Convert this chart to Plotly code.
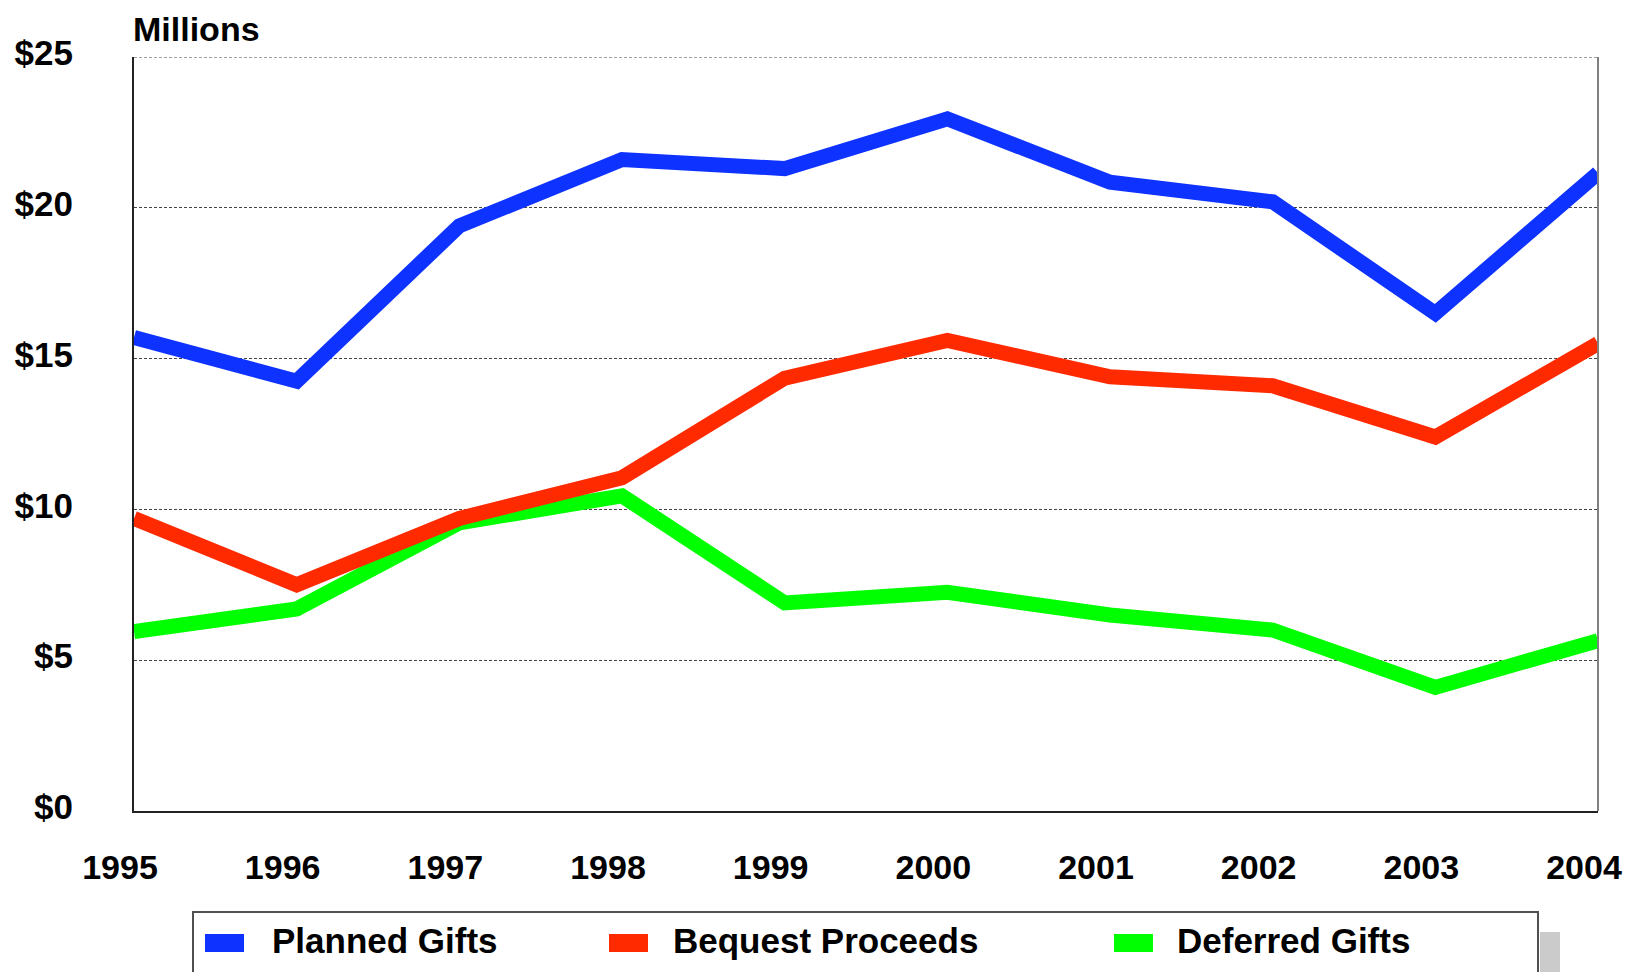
import plotly.graph_objects as go

# ---- data ----
years = [1995, 1996, 1997, 1998, 1999, 2000, 2001, 2002, 2003, 2004]
year_labels = [str(y) for y in years]
planned_gifts = [15.7, 14.25, 19.4, 21.6, 21.3, 22.95, 20.85, 20.2, 16.5, 21.15]
bequest_proceeds = [9.7, 7.5, 9.7, 11.05, 14.35, 15.6, 14.4, 14.1, 12.4, 15.5]
deferred_gifts = [5.95, 6.7, 9.55, 10.45, 6.9, 7.25, 6.5, 6.0, 4.1, 5.65]
y_ticks = [0, 5, 10, 15, 20, 25]
y_tick_labels = ["$0", "$5", "$10", "$15", "$20", "$25"]
series_names = ["Planned Gifts", "Bequest Proceeds", "Deferred Gifts"]
series_colors = ["#0E32FF", "#FF2A00", "#00FF00"]

# ---- layout geometry (pixels, page coords; page body has an 8px offset) ----
OFF = 8
W, H = 1635 - OFF, 972 - OFF
L, R, T, B = 134 - OFF, 37, 57 - OFF, 161
PW = W - L - R
PH = H - T - B
FONT = "Liberation Sans, Arial, Helvetica, sans-serif"


def px(x):
    # x given in page pixels
    return (x - OFF - L) / PW


def py(y):
    # y given in page pixels
    return (H - B - (y - OFF)) / PH


fig = go.Figure()
# draw order: deferred, bequest, planned (red over green)
for vals, name, col in [
    (deferred_gifts, series_names[2], series_colors[2]),
    (bequest_proceeds, series_names[1], series_colors[1]),
    (planned_gifts, series_names[0], series_colors[0]),
]:
    fig.add_trace(go.Scatter(x=years, y=vals, mode="lines", name=name,
                             line=dict(color=col, width=15),
                             showlegend=False, hoverinfo="x+y+name"))

fig.update_layout(
    width=W, height=H,
    margin=dict(l=L, r=R, t=T, b=B, pad=0, autoexpand=False),
    paper_bgcolor="white", plot_bgcolor="white",
    font=dict(family=FONT, size=34, color="black"),
    showlegend=False,
    xaxis=dict(range=[1995, 2004], tickvals=years, automargin=False,
               ticktext=["<b>%s</b>" % t for t in year_labels],
               showgrid=False, zeroline=False, showline=True,
               linecolor="#222222", linewidth=2, ticks="",
               ticklabelstandoff=25, ticklabelshift=-14,
               tickfont=dict(family=FONT, size=34, color="black")),
    yaxis=dict(range=[0, 25], tickvals=y_ticks, automargin=False,
               ticktext=["<b>%s</b>" % t for t in y_tick_labels],
               showgrid=True, gridcolor="#444444", gridwidth=1,
               griddash="3px,2px", zeroline=False, showline=True,
               linecolor="#222222", linewidth=2, ticks="",
               ticklabelstandoff=52, ticklabelshift=-4,
               tickfont=dict(family=FONT, size=35, color="black")),
)

shapes = []
# top dotted edge (the $25 gridline)
shapes.append(dict(type="line", xref="paper", yref="y", x0=0, x1=1, y0=25, y1=25,
                   line=dict(color="#444444", width=1, dash="3px,2px")))
# right frame edge
shapes.append(dict(type="line", xref="paper", yref="paper", x0=1, x1=1, y0=0, y1=1,
                   line=dict(color="#808080", width=2)))
# legend shadow and frame
shapes.append(dict(type="rect", xref="paper", yref="paper",
                   x0=px(1540), x1=px(1560), y0=py(1010), y1=py(932),
                   fillcolor="#CBCBCB", line=dict(width=0)))
shapes.append(dict(type="rect", xref="paper", yref="paper",
                   x0=px(193), x1=px(1538), y0=py(1010), y1=py(912),
                   fillcolor="white", line=dict(color="#505050", width=2)))
swatch_x = [205, 609, 1114]
text_x = [270, 671, 1175]
for sx, tx, name, col in zip(swatch_x, text_x, series_names, series_colors):
    shapes.append(dict(type="rect", xref="paper", yref="paper",
                       x0=px(sx), x1=px(sx + 39), y0=py(952), y1=py(934),
                       fillcolor=col, line=dict(width=0)))
    fig.add_annotation(xref="paper", yref="paper", x=px(tx), y=py(940),
                       xanchor="left", yanchor="middle", text="<b>%s</b>" % name,
                       showarrow=False, font=dict(family=FONT, size=35, color="black"))
fig.update_layout(shapes=shapes)

# y-axis unit title
fig.add_annotation(xref="paper", yref="paper", x=px(131), y=py(8),
                   xanchor="left", yanchor="top", text="<b>Millions</b>",
                   showarrow=False, font=dict(family=FONT, size=34, color="black"))

fig.write_html("out.html")
